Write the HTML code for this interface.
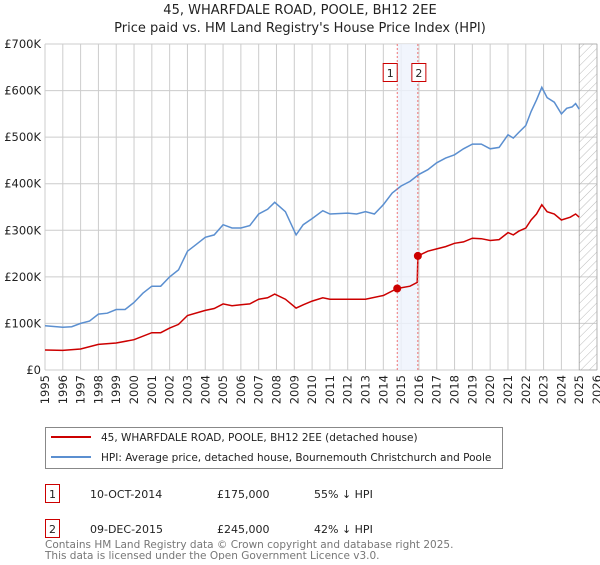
<!DOCTYPE html>
<html><head><meta charset="utf-8"><style>
body{margin:0;background:#fff;font-family:"Liberation Sans","DejaVu Sans",sans-serif;}
svg text{font-family:"DejaVu Sans","Liberation Sans",sans-serif;}
</style></head><body>
<svg id="c" width="600" height="560" xmlns="http://www.w3.org/2000/svg">
<text x="300" y="14" text-anchor="middle" font-size="13" fill="#222">45, WHARFDALE ROAD, POOLE, BH12 2EE</text>
<text x="300" y="32" text-anchor="middle" font-size="13" fill="#222">Price paid vs. HM Land Registry's House Price Index (HPI)</text>
<defs><pattern id="h" width="6" height="6" patternUnits="userSpaceOnUse" patternTransform="rotate(45)"><line x1="0" y1="0" x2="0" y2="6" stroke="#bbb" stroke-width="1"/></pattern></defs>
<g id="grid"></g><g id="marks"></g>
<g>
<rect x="45.5" y="427.5" width="457" height="41" fill="#fff" stroke="#888"/>
<line x1="51" y1="437" x2="91" y2="437" stroke="#cc0000" stroke-width="2"/>
<text x="101" y="441" font-size="10.5" fill="#222">45, WHARFDALE ROAD, POOLE, BH12 2EE (detached house)</text>
<line x1="51" y1="457" x2="91" y2="457" stroke="#5b8fd0" stroke-width="2"/>
<text x="101" y="461" font-size="10.5" fill="#222">HPI: Average price, detached house, Bournemouth Christchurch and Poole</text>
</g>
<g font-size="11" fill="#222">
<rect x="45.5" y="484.5" width="14" height="18" fill="#fff" stroke="#cc0000"/><text x="52.5" y="498" text-anchor="middle">1</text>
<text x="90" y="498">10-OCT-2014</text><text x="217" y="498">£175,000</text><text x="314" y="498">55% ↓ HPI</text>
<rect x="45.5" y="519.5" width="14" height="18" fill="#fff" stroke="#cc0000"/><text x="52.5" y="533" text-anchor="middle">2</text>
<text x="90" y="533">09-DEC-2015</text><text x="217" y="533">£245,000</text><text x="314" y="533">42% ↓ HPI</text>
</g>
<text x="45" y="548" font-size="10.5" fill="#777">Contains HM Land Registry data © Crown copyright and database right 2025.</text>
<text x="45" y="559" font-size="10.5" fill="#777">This data is licensed under the Open Government Licence v3.0.</text>
</svg>
<script>
const hpiYears=[1995,1996,1996.5,1997,1997.5,1998,1998.5,1999,1999.5,2000,2000.5,2001,2001.5,2002,2002.5,2003,2003.5,2004,2004.5,2005,2005.5,2006,2006.5,2007,2007.5,2007.9,2008.5,2009.1,2009.5,2010,2010.6,2011,2012,2012.5,2013,2013.5,2014,2014.5,2015,2015.5,2016,2016.5,2017,2017.5,2018,2018.5,2019,2019.5,2020,2020.5,2021,2021.3,2021.6,2022,2022.3,2022.6,2022.9,2023.2,2023.6,2024,2024.3,2024.6,2024.8,2025];
const hpiValues=[95,92,93,100,105,120,122,130,130,145,165,180,180,200,215,255,270,285,290,312,305,305,310,335,345,360,340,290,312,325,342,335,337,335,340,335,355,380,395,405,420,430,445,455,462,475,485,485,475,478,505,498,510,525,555,580,607,585,575,550,562,565,572,560];
const propYears=[1995,1996,1997,1998,1999,2000,2001,2001.5,2002,2002.5,2003,2004,2004.5,2005,2005.5,2006,2006.5,2007,2007.5,2007.9,2008.5,2009.1,2009.5,2010,2010.6,2011,2012,2013,2014,2014.78,2015.5,2015.9,2015.94,2016.5,2017,2017.5,2018,2018.5,2019,2019.5,2020,2020.5,2021,2021.3,2021.6,2022,2022.3,2022.6,2022.9,2023.2,2023.6,2024,2024.5,2024.8,2025];
const propValues=[43,42,45,55,58,65,80,80,90,98,117,128,132,142,138,140,142,152,155,163,152,133,140,148,155,152,152,152,160,175,180,188,245,255,260,265,272,275,283,282,278,280,295,290,298,305,322,335,355,340,335,322,328,335,328];
const saleYears=[2014.78,2015.94];
const saleValues=[175,245];
const saleLabels=["1","2"];
const yTicks=[0,100,200,300,400,500,600,700];
const yTickLabels=["£0","£100K","£200K","£300K","£400K","£500K","£600K","£700K"];
const X0=45,X1=597,Y0=370,Y1=44;
const x=y=>X0+(y-1995)/(2026-1995)*(X1-X0);
const yv=v=>Y0-v/700*(Y0-Y1);
const NS="http://www.w3.org/2000/svg";
function mk(p,t,a){const e=document.createElementNS(NS,t);for(const k in a)e.setAttribute(k,a[k]);p.appendChild(e);return e;}
const g=document.getElementById('grid'),m=document.getElementById('marks');
for(let yr=1995;yr<=2026;yr++){
 const l=mk(g,'line',{x1:x(yr),x2:x(yr),y1:Y1,y2:Y0,stroke:'#ccc'});
 
 
 const tx=x(yr)+4,ty=375;
 const t=mk(g,'text',{x:tx,y:ty,'text-anchor':'end','font-size':'11.5',fill:'#222',transform:'rotate(-90 '+tx+' '+ty+')'});
 t.textContent=yr;
 
 
}
yTicks.forEach((v,i)=>{
 const l=mk(g,'line',{x1:X0,x2:X1,y1:yv(v),y2:yv(v),stroke:'#ccc'});
 
 
 const t=mk(g,'text',{x:41,y:yv(v)+4,'text-anchor':'end','font-size':'11.5',fill:'#222'});
 t.textContent=yTickLabels[i];
 
 
});
const band=mk(m,'rect',{x:x(saleYears[0]),y:Y1,width:x(saleYears[1])-x(saleYears[0]),height:Y0-Y1,fill:'#eef3fc',opacity:0.8});


const hat=mk(m,'rect',{x:x(2025),y:Y1,width:X1-x(2025),height:Y0-Y1,fill:'url(#h)',stroke:'#999','stroke-width':0.5});


const pth=(xs,vs)=>xs.map((a,i)=>(i?'L':'M')+x(a).toFixed(1)+','+yv(vs[i]).toFixed(1)).join('');
const hp=mk(m,'path',{d:pth(hpiYears,hpiValues),fill:'none',stroke:'#5b8fd0','stroke-width':1.5});


const pp=mk(m,'path',{d:pth(propYears,propValues),fill:'none',stroke:'#cc0000','stroke-width':1.5});


saleYears.forEach((s,i)=>{
 const l=mk(m,'line',{x1:x(s),x2:x(s),y1:Y1,y2:Y0,stroke:'#e55','stroke-dasharray':'2,2','stroke-width':0.8});
 
 
 const c=mk(m,'circle',{cx:x(s),cy:yv(saleValues[i]),r:4,fill:'#cc0000'});
 
 
 const r=mk(m,'rect',{x:x(s)-12+(i?6:0)-(i?0:2),y:63.5,width:14,height:18,fill:'#fff',stroke:'#cc0000'});
 
 
 const t=mk(m,'text',{x:x(s)-5+(i?6:0)-(i?0:2),y:77,'text-anchor':'middle','font-size':'11',fill:'#222'});
 t.textContent=saleLabels[i];
 
 
});
</script>
</body></html>
